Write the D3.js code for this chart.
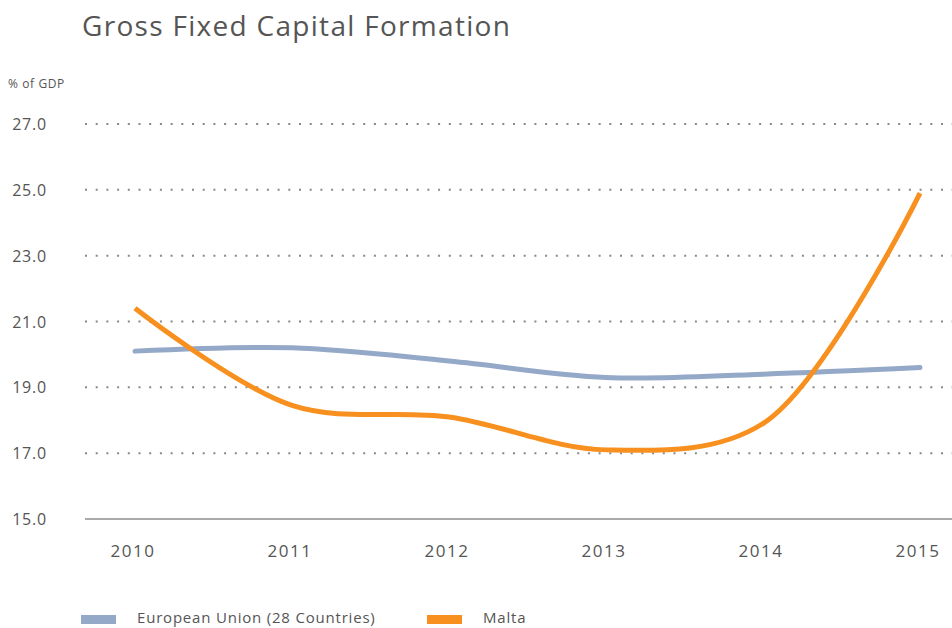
<!DOCTYPE html>
<html>
<head>
<meta charset="utf-8">
<script src="https://cdn.jsdelivr.net/npm/d3@7"></script>
<style>
  body { margin: 0; background: #fff; }
  text { font-family: "Open Sans", "DejaVu Sans", sans-serif; fill: #555; }
</style>
</head>
<body>
<div id="chart"></div>
<script>
const years = [2010, 2011, 2012, 2013, 2014, 2015];
const euValues = [20.1, 20.2, 19.8, 19.3, 19.4, 19.6];
const maltaValues = [21.4, 18.45, 18.1, 17.1, 17.9, 24.9];
const yTicks = [15, 17, 19, 21, 23, 25, 27];
const seriesNames = ["European Union (28 Countries)", "Malta"];
const seriesColors = ["#94a8c8", "#f7901e"];

const width = 952, height = 628;

const svg = d3.select("#chart")
    .append("svg")
    .attr("width", width)
    .attr("height", height);

const xScale = d3.scalePoint()
    .domain(years)
    .range([135, 920]);

const yScale = d3.scaleLinear()
    .domain([15, 27])
    .range([519, 124]);

// title
svg.append("text")
    .attr("x", 82)
    .attr("y", 36)
    .style("font-size", "28px")
    .style("letter-spacing", "1.3px")
    .text("Gross Fixed Capital Formation");

svg.append("text")
    .attr("x", 8)
    .attr("y", 88)
    .style("font-size", "12px")
    .style("letter-spacing", "0.6px")
    .text("% of GDP");

// grid lines
svg.append("g")
    .selectAll("line")
    .data(yTicks.filter(d => d !== 15))
    .join("line")
    .attr("x1", 85)
    .attr("x2", width)
    .attr("y1", d => yScale(d))
    .attr("y2", d => yScale(d))
    .attr("stroke", "#888")
    .attr("stroke-width", 2)
    .attr("stroke-dasharray", "2,8.7");

// base line
svg.append("line")
    .attr("x1", 85)
    .attr("x2", width)
    .attr("y1", yScale(15))
    .attr("y2", yScale(15))
    .attr("stroke", "#aaa")
    .attr("stroke-width", 2);

// y labels
svg.append("g")
    .selectAll("text")
    .data(yTicks)
    .join("text")
    .attr("x", 47)
    .attr("y", d => yScale(d) + 6)
    .attr("text-anchor", "end")
    .style("font-size", "16px")
    .style("letter-spacing", "0.8px")
    .text(d => d3.format(".1f")(d));

// x labels
svg.append("g")
    .selectAll("text")
    .data(years)
    .join("text")
    .attr("x", d => xScale(d) - 2)
    .attr("y", 557)
    .attr("text-anchor", "middle")
    .style("font-size", "17px")
    .style("letter-spacing", "1.5px")
    .text(d => d);

const line = d3.line()
    .x((d, i) => xScale(years[i]))
    .y(d => yScale(d))
    .curve(d3.curveCatmullRom.alpha(0.5));

[euValues, maltaValues].forEach((vals, i) => {
    svg.append("path")
        .attr("d", line(vals))
        .attr("fill", "none")
        .attr("stroke", seriesColors[i])
        .attr("stroke-width", 5)
        .attr("stroke-linecap", i === 0 ? "round" : "butt");
});

// legend
const legendX = [81, 427];
seriesNames.forEach((name, i) => {
    svg.append("rect")
        .attr("x", legendX[i])
        .attr("y", 615)
        .attr("width", 35)
        .attr("height", 9)
        .attr("fill", seriesColors[i]);
    svg.append("text")
        .attr("x", legendX[i] + 56)
        .attr("y", 623)
        .style("font-size", "15px")
        .style("letter-spacing", "0.8px")
        .text(name);
});
</script>
</body>
</html>
